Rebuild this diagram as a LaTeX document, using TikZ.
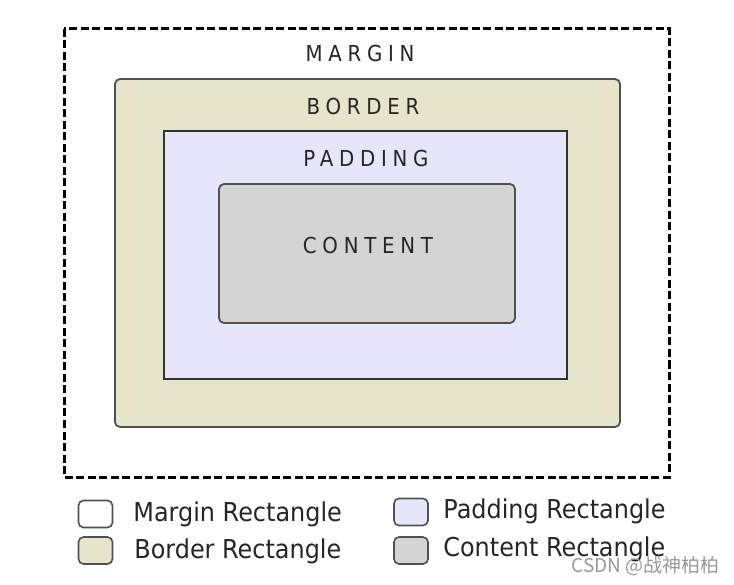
\documentclass[tikz,border=0pt]{standalone}
\usepackage{fontspec}
\setmainfont{DejaVu Sans}[FakeStretch=0.92]
\newfontfamily\boxfont{DejaVu Sans}[FakeStretch=0.9,LetterSpace=26]
\newfontfamily\wmfont{Noto Sans CJK SC}

\definecolor{borderfill}{RGB}{230,228,202}
\definecolor{paddingfill}{RGB}{230,230,250}
\definecolor{contentfill}{RGB}{212,212,212}
\definecolor{edgegray}{RGB}{80,80,80}

\tikzset{every picture/.style={line width=0.75pt}}
\tikzset{
  boxlabel/.style={inner sep=0pt,text=black!85,font=\boxfont\fontsize{22}{24}\selectfont},
  legendbox/.style={draw=edgegray,line width=1.6pt,rounded corners=5pt,minimum width=34pt,minimum height=27pt,inner sep=0pt},
  legendtext/.style={anchor=west,inner sep=0pt,text=black!85,font=\fontsize{26}{28}\selectfont}
}

\begin{document}
\begin{tikzpicture}[x=1pt,y=1pt,yscale=-1,xscale=1]
		\useasboundingbox (0,0) rectangle (734,585);

		%Margin (dashed)
		\draw [line width=3pt,dash pattern={on 8pt off 3.5pt}] (64,29) rectangle (669,477) ;
		%Border
		\draw [draw=edgegray,fill=borderfill,line width=1.8pt,rounded corners=5pt] (115,79) rectangle (620,427) ;
		%Padding
		\draw [draw=black!80,fill=paddingfill,line width=1.8pt] (164,131) rectangle (567,379) ;
		%Content
		\draw [draw=edgegray,fill=contentfill,line width=1.8pt,rounded corners=5pt] (219,184) rectangle (515,323) ;

		% Text Node
		\node [boxlabel] (margin) at (360,53) {MARGIN};
		% Text Node
		\node [boxlabel] (border) at (363,106) {BORDER};
		% Text Node
		\node [boxlabel] (padding) at (366,158) {PADDING};
		% Text Node
		\node [boxlabel] (content) at (368,245) {CONTENT};

		%Legend
		\node [legendbox,fill=white] (kmargin) at (95.5,514) {};
		\node [legendbox,fill=borderfill] (kborder) at (95.5,550.5) {};
		\node [legendbox,fill=paddingfill] (kpadding) at (411,512) {};
		\node [legendbox,fill=contentfill] (kcontent) at (411,550.5) {};
		\node [legendtext] (tmargin) at (133,514) {Margin Rectangle};
		\node [legendtext] (tborder) at (134,551) {Border Rectangle};
		\node [legendtext] (tpadding) at (443,511) {Padding Rectangle};
		\node [legendtext] (tcontent) at (443,549) {Content Rectangle};

		% Text Node
		\node [anchor=east,inner sep=0pt,text=black!40,font=\wmfont\fontsize{19}{21}\selectfont] (mark) at (720,566) {CSDN @战神柏柏};

	\end{tikzpicture}
\end{document}
